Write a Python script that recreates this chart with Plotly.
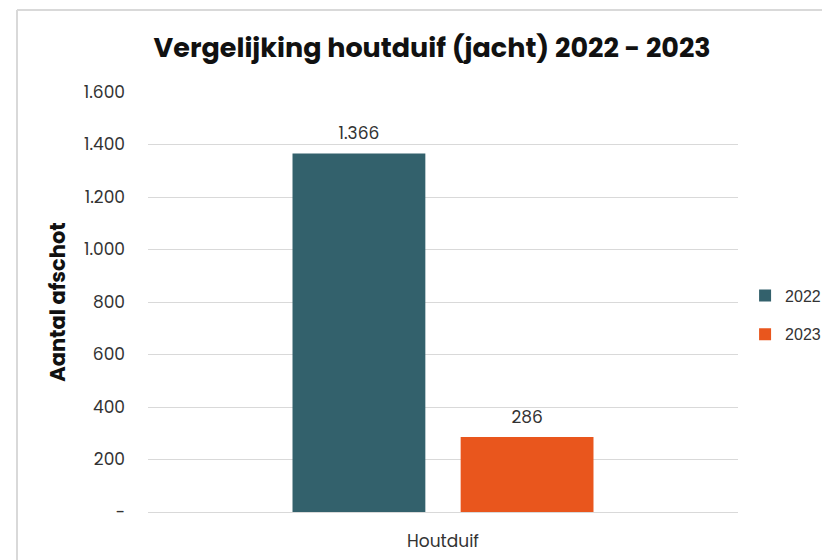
import plotly.graph_objects as go

# data
categories = ["Houtduif"]
years = ["2022", "2023"]
values_2022 = [1366]
values_2023 = [286]
labels_2022 = ["1.366"]
labels_2023 = ["286"]
colors = ["#33616c", "#e9561d"]

tick_vals = [0, 200, 400, 600, 800, 1000, 1200, 1400, 1600]
tick_text = ["-", "200", "400", "600", "800", "1.000", "1.200", "1.400", "1.600"]

font_family = "Poppins, Lato, sans-serif"

fig = go.Figure()
for name, vals, col in zip(years, [values_2022, values_2023], colors):
    fig.add_trace(go.Bar(
        x=categories, y=vals, name=name, legendgroup=name,
        marker=dict(color=col, line=dict(width=0)),
        hoverinfo="y",
    ))

# value labels, placed with invisible markers so they sit a bit above the bars
for name, vals, txt in zip(years, [values_2022, values_2023], [labels_2022, labels_2023]):
    fig.add_trace(go.Scatter(
        x=categories, y=vals, text=txt, mode="markers+text",
        textposition="top center", showlegend=False, hoverinfo="skip",
        marker=dict(size=14, opacity=0),
        textfont=dict(size=17, color="#333333"), cliponaxis=False,
    ))

# page has an 8px body margin, so keep the figure inside the window
fig.update_layout(
    width=822, height=552,
    barmode="group", bargap=0.43, bargroupgap=0.21,
    scattermode="group", scattergap=0.43,
    paper_bgcolor="white", plot_bgcolor="white",
    font=dict(family=font_family, color="#333333"),
    title=dict(text="<b>Vergelijking houtduif (jacht) 2022 - 2023</b>",
               x=0.516, xanchor="center", y=0.9275, yanchor="middle",
               font=dict(size=27, color="#111111")),
    margin=dict(l=140, r=92, t=84, b=48, autoexpand=False),
    legend=dict(x=1.012, y=0.469, yanchor="middle", xanchor="left", itemwidth=30,
                font=dict(size=16, family="Liberation Sans, Arial, sans-serif"),
                tracegroupgap=15, traceorder="grouped"),
    # light border around the chart area
    shapes=[
        dict(type="line", xref="paper", yref="paper", x0=-0.222, x1=-0.222, y0=1.195, y1=-0.3,
             line=dict(color="#d9d9d9", width=2)),
        dict(type="line", xref="paper", yref="paper", x0=-0.222, x1=1.3, y0=1.195, y1=1.195,
             line=dict(color="#d9d9d9", width=2)),
    ],
)

fig.update_yaxes(
    range=[0, 1600], tickvals=tick_vals, ticktext=tick_text,
    showgrid=True, gridcolor="#d9d9d9", gridwidth=1, zeroline=False,
    tickfont=dict(size=17), ticks="", ticklabelstandoff=22, automargin=False,
    title=dict(text="<b>Aantal afschot</b>", font=dict(size=21, color="#111111"), standoff=12),
)
fig.update_xaxes(
    showline=True, linecolor="#d9d9d9", linewidth=1, automargin=False,
    tickfont=dict(size=17), ticks="", ticklabelstandoff=14,
)

fig.write_html("out.html")
